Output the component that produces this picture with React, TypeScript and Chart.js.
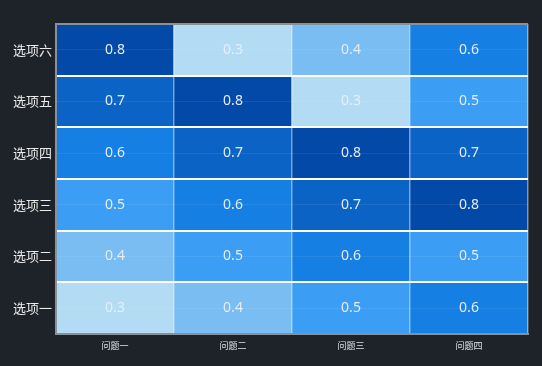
import React, { useEffect, useRef } from "react";
import { Chart, registerables } from "chart.js";

Chart.register(...registerables);

const questions = ["问题一", "问题二", "问题三", "问题四"];
const options = ["选项一", "选项二", "选项三", "选项四", "选项五", "选项六"];
// values[row][col], row 0 = 选项一 (bottom)
const row1 = [0.3, 0.4, 0.5, 0.6];
const row2 = [0.4, 0.5, 0.6, 0.5];
const row3 = [0.5, 0.6, 0.7, 0.8];
const row4 = [0.6, 0.7, 0.8, 0.7];
const row5 = [0.7, 0.8, 0.3, 0.5];
const row6 = [0.8, 0.3, 0.4, 0.6];
const values = [row1, row2, row3, row4, row5, row6];

const colorFor = (v: number) => {
  const map: Record<string, string> = {
    "0.3": "#b3dcf4",
    "0.4": "#79bdf3",
    "0.5": "#3b9ef4",
    "0.6": "#157fe4",
    "0.7": "#0b64c5",
    "0.8": "#034aa8",
  };
  return map[v.toFixed(1)] || "#157fe4";
};

const labelPlugin = {
  id: "cellLabels",
  afterDatasetsDraw(chart: any) {
    const ctx = chart.ctx;
    ctx.save();
    ctx.font = '14px "Noto Sans", "DejaVu Sans", sans-serif';
    ctx.textAlign = "center";
    ctx.textBaseline = "middle";
    chart.data.datasets.forEach((ds: any, di: number) => {
      const meta = chart.getDatasetMeta(di);
      meta.data.forEach((bar: any, i: number) => {
        const v = values[di][i];
        const cy = (bar.y + bar.base) / 2;
        ctx.fillStyle = v <= 0.3 ? "rgba(235,242,250,0.85)" : "#e4ecf5";
        ctx.fillText(v.toFixed(1), bar.x, cy);
      });
    });
    ctx.restore();
  },
};

export default function App() {
  const ref = useRef<HTMLCanvasElement>(null);
  useEffect(() => {
    document.body.style.margin = "0";
    const chart = new Chart(ref.current!, {
      type: "bar",
      data: {
        labels: questions,
        datasets: values.map((row, ri) => ({
          label: options[ri],
          data: row.map(() => 1),
          backgroundColor: row.map(colorFor),
          borderWidth: 0,
          barPercentage: 1,
          categoryPercentage: 1,
        })),
      },
      options: {
        animation: false,
        responsive: false,
        maintainAspectRatio: false,
        layout: { padding: { left: 0, top: 24, right: 14, bottom: 0 } },
        plugins: { legend: { display: false }, tooltip: { enabled: false } },
        scales: {
          x: {
            stacked: true,
            offset: true,
            grid: {
              offset: true,
              z: 1,
              drawTicks: false,
              color: (c: any) =>
                c.index === 0 || c.index === questions.length
                  ? "#8a9099"
                  : "rgba(255,255,255,0.45)",
              lineWidth: (c: any) =>
                c.index === 0 || c.index === questions.length ? 2 : 1.5,
            },
            border: { display: true, color: "#8a9099", width: 2, z: 1 },
            ticks: {
              color: "#e0e0e0",
              font: { size: 9, family: '"Noto Sans CJK SC", sans-serif' },
              padding: 6,
            },
            afterFit: (s: any) => {
              s.height = 32;
            },
          },
          y: {
            stacked: true,
            min: 0,
            max: 6,
            afterBuildTicks: (s: any) => {
              const t = [];
              for (let i = 0; i <= 12; i++) t.push({ value: i / 2 });
              s.ticks = t;
            },
            grid: {
              z: 1,
              drawTicks: false,
              color: (c: any) => {
                const v = c.tick ? c.tick.value : 0;
                if (v === 0 || v === 6) return "#8a9099";
                if (v % 1 === 0) return "#ffffff";
                return "rgba(255,255,255,0.07)";
              },
              lineWidth: (c: any) => {
                const v = c.tick ? c.tick.value : 0;
                if (v % 1 === 0) return 2;
                return 1;
              },
            },
            border: { display: true, color: "#8a9099", width: 2, z: 1 },
            ticks: {
              autoSkip: false,
              color: "#ececec",
              font: { size: 13, family: '"Noto Sans CJK SC", sans-serif' },
              padding: 4,
              callback: (v: any) => {
                const n = Number(v);
                if (n % 1 === 0.5) return options[Math.floor(n)];
                return "";
              },
            },
            afterFit: (s: any) => {
              s.width = 56;
            },
          },
        },
      },
      plugins: [labelPlugin],
    });
    return () => chart.destroy();
  }, []);
  return (
    <div style={{ position: "fixed", inset: 0, background: "#1e2229" }}>
      <canvas ref={ref} width={542} height={366} style={{ display: "block" }} />
    </div>
  );
}
